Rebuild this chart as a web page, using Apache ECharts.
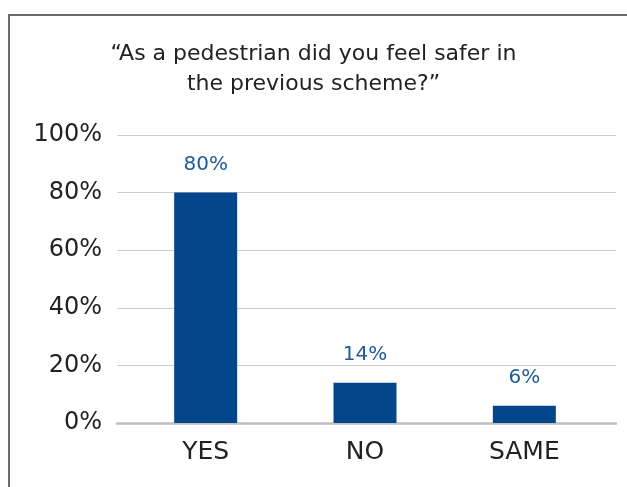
<!DOCTYPE html>
<html>
<head>
<meta charset="utf-8">
<script src="https://cdn.jsdelivr.net/npm/echarts@6/dist/echarts.min.js"></script>
<style>
  html, body { margin: 0; padding: 0; background: #fff; }
  #chart { width: 627px; height: 487px; }
</style>
</head>
<body>
<div id="chart"></div>
<script>
// Survey answers and their shares (percent)
const categories = ['YES', 'NO', 'SAME'];
const shares = [80, 14, 6];
const yTicks = [0, 20, 40, 60, 80, 100];

const titleLines = ['\u201CAs a pedestrian did you feel safer in', 'the previous scheme?\u201D'];

const FONT = '"DejaVu Sans", sans-serif';
const chart = echarts.init(document.getElementById('chart'));

chart.setOption({
  animation: false,
  backgroundColor: '#ffffff',
  title: {
    text: titleLines.join('\n'),
    left: 'center',
    top: 34,
    textStyle: {
      fontFamily: FONT,
      fontSize: 22,
      fontWeight: 'normal',
      color: '#222222',
      lineHeight: 30
    }
  },
  graphic: [{
    type: 'polyline',
    shape: { points: [[9, 500], [9, 15], [640, 15]] },
    style: { stroke: '#6b6b6b', lineWidth: 2, fill: null },
    silent: true
  }],
  grid: [
    { left: 117, right: 11, top: 135, bottom: 64 },
    { left: 126, right: 23, top: 135, bottom: 64 }
  ],
  xAxis: [
    {
      gridIndex: 0,
      type: 'category',
      data: categories,
      axisLine: { show: true, lineStyle: { color: '#bfbfc4', width: 2.5 } },
      axisTick: { show: false },
      axisLabel: { show: false }
    },
    {
      gridIndex: 1,
      type: 'category',
      data: categories,
      axisLine: { show: false },
      axisTick: { show: false },
      axisLabel: {
        margin: 17,
        fontFamily: FONT,
        fontSize: 25,
        color: '#222222'
      }
    }
  ],
  yAxis: [
    {
      gridIndex: 0,
      type: 'value',
      min: yTicks[0],
      max: yTicks[yTicks.length - 1],
      interval: 20,
      axisLine: { show: false },
      axisTick: { show: false },
      splitLine: { lineStyle: { color: '#cccccc', width: 1 } },
      axisLabel: {
        margin: 15,
        fontFamily: FONT,
        fontSize: 24,
        color: '#222222',
        formatter: v => v + '%'
      }
    },
    {
      gridIndex: 1,
      type: 'value',
      min: 0,
      max: 100,
      show: false
    }
  ],
  series: [{
    type: 'bar',
    xAxisIndex: 1,
    yAxisIndex: 1,
    data: shares,
    barWidth: 63,
    itemStyle: { color: '#03468b' },
    label: {
      show: true,
      position: 'top',
      distance: 18,
      fontFamily: FONT,
      fontSize: 20,
      color: '#1e5b9c',
      formatter: p => p.value + '%'
    }
  }]
});
</script>
</body>
</html>
